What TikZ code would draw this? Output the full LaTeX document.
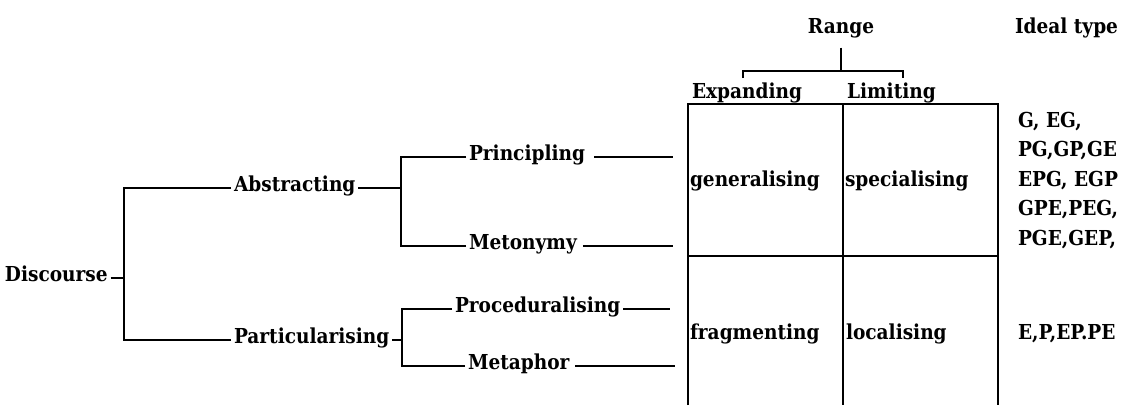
\documentclass[tikz,border=0pt]{standalone}
\usepackage{fontspec}
\setmainfont{DejaVu Serif Condensed}[BoldFont={* Bold}]
\begin{document}
\begin{tikzpicture}[x=1pt,y=-1pt,
  lbl/.style={inner sep=0pt, outer xsep=3pt, outer ysep=0pt, font=\fontsize{20.6}{24}\selectfont\bfseries},
  ln/.style={line width=2pt}]
\useasboundingbox (0,0) rectangle (1131,405);

% ---- tree labels ----
\node[lbl, anchor=base west] (disc) at (2,281) {Discourse};
\node[lbl, anchor=base west] (abs)  at (231,191) {Abstracting};
\node[lbl, anchor=base west] (part) at (231,343) {Particularising};
\node[lbl, anchor=base west] (prin) at (466,160) {Principling};
\node[lbl, anchor=base west] (meto) at (466,249) {Metonymy};
\node[lbl, anchor=base west] (proc) at (452,312) {Proceduralising};
\node[lbl, anchor=base west] (meta) at (465,369) {Metaphor};

% ---- junction columns ----
\coordinate (x1) at (124,0);
\coordinate (x2) at (401,0);
\coordinate (x3) at (402,0);
\coordinate (xe) at (673,0);
\coordinate (j1) at (disc.mid east -| x1);
\coordinate (j2) at (abs.mid east -| x2);
\coordinate (j3) at (part.mid east -| x3);

\draw[ln] (disc.mid east) -- (j1);
\draw[ln] (abs.mid west) -| (j1);
\draw[ln] (part.mid west) -| (j1);

\draw[ln] (abs.mid east) -- (j2);
\draw[ln] (prin.mid west) -| (j2);
\draw[ln] (meto.mid west) -| (j2);

\draw[ln] (part.mid east) -- (j3);
\draw[ln] (proc.mid west) -| (j3);
\draw[ln] (meta.mid west) -| (j3);

\coordinate (e1) at (prin.mid east -| xe);
\coordinate (e2) at (meto.mid east -| xe);
\coordinate (e3) at ([xshift=-3pt]proc.mid east -| xe);
\coordinate (e4) at ([xshift=2pt]meta.mid east -| xe);
\draw[ln] ([xshift=6pt]prin.mid east) -- (e1);
\draw[ln] ([xshift=3pt]meto.mid east) -- (e2);
\draw[ln] (proc.mid east) -- (e3);
\draw[ln] ([xshift=3pt]meta.mid east) -- (e4);

% ---- table ----
\draw[ln] (688,405) -- (688,104) -- (998,104) -- (998,405);
\draw[ln] (843,104) -- (843,405);
\draw[ln] (688,256) -- (998,256);

% ---- headings ----
\node[lbl, anchor=base] (range) at (841,33) {Range};
\node[lbl, anchor=base west] (ideal) at (1012,33) {Ideal type};
\node[lbl, anchor=base west] (expa) at (689,98) {Expanding};
\node[lbl, anchor=base west] (limi) at (844,98) {Limiting};

\coordinate (rb) at (range.south |- 0,71);
\coordinate (ba) at (743,78);
\coordinate (bb) at (903,78);
\draw[ln] ([yshift=-10pt]range.south) -- (rb);
\draw[ln] (ba) -- (ba |- rb) -- (bb |- rb) -- (bb);

% ---- cells ----
\node[lbl, anchor=base west] (gen)  at (687,186) {generalising};
\node[lbl, anchor=base west] (spec) at (842,186) {specialising};
\node[lbl, anchor=base west] (frag) at (687,339) {fragmenting};
\node[lbl, anchor=base west] (loca) at (843,339) {localising};

% ---- ideal types ----
\node[lbl, anchor=base west] (t1) at (1015,127) {G, EG,};
\node[lbl, anchor=base west] (t2) at (1015,156.5) {PG,GP,GE};
\node[lbl, anchor=base west] (t3) at (1015,186) {EPG, EGP};
\node[lbl, anchor=base west] (t4) at (1015,215.5) {GPE,PEG,};
\node[lbl, anchor=base west] (t5) at (1015,245) {PGE,GEP,};
\node[lbl, anchor=base west] (t6) at (1015,339) {E,P,EP.PE};
\end{tikzpicture}
\end{document}
